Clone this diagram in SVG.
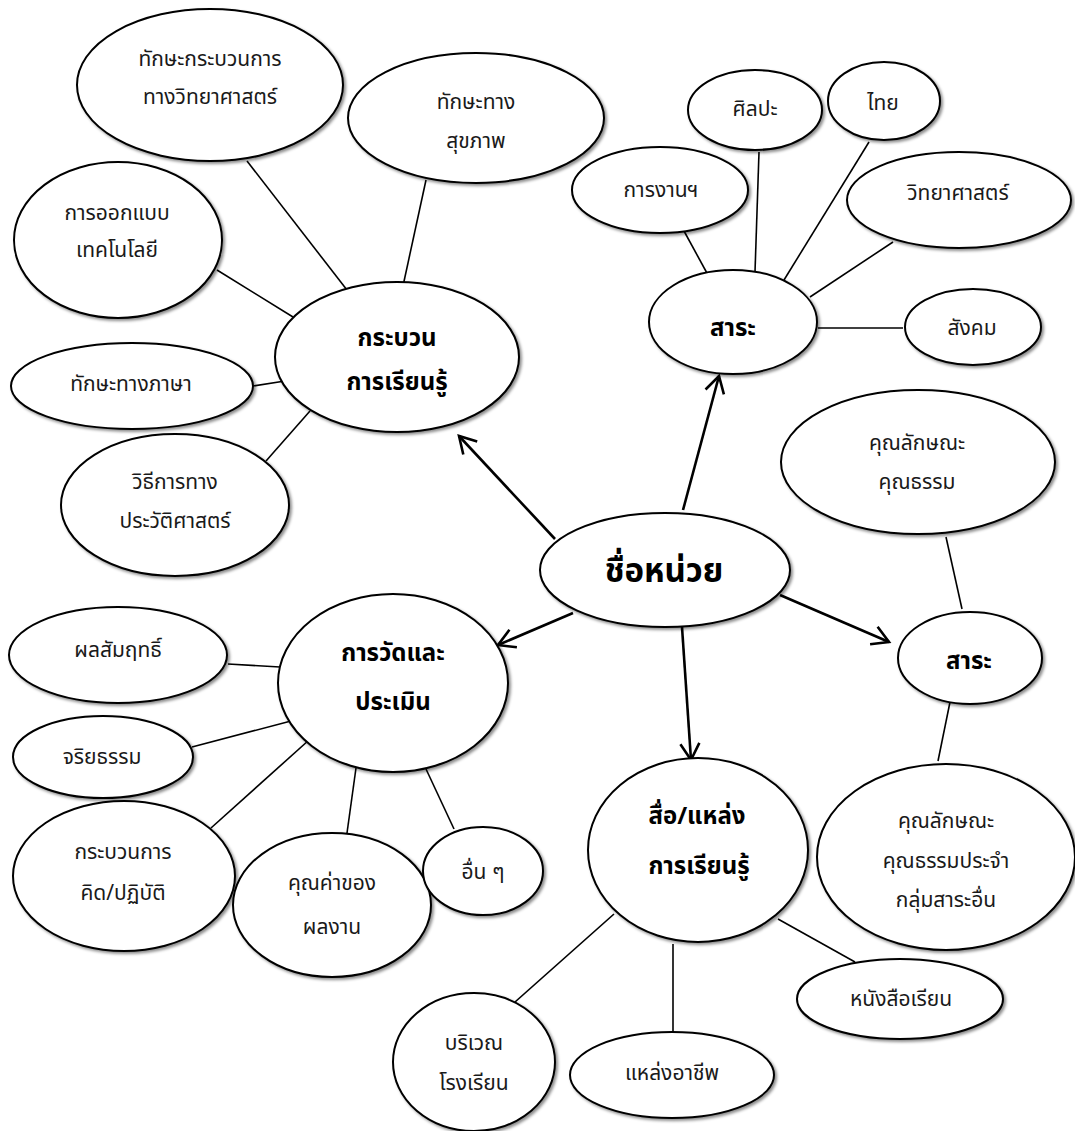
<svg xmlns="http://www.w3.org/2000/svg" width="1075" height="1131" viewBox="0 0 1075 1131">
  <style>
    .node ellipse { fill: #ffffff; stroke: #000000; stroke-width: 2; filter: url(#shade); }
    .link { stroke: #000000; stroke-width: 1.6; fill: none; }
    .arrow { stroke: #000000; stroke-width: 2.6; fill: none; marker-end: url(#head); }
    text { font-family: "Noto Sans Thai", "Noto Sans", "DejaVu Sans", sans-serif; text-anchor: middle; fill: #1a1a1a; }
    .t { font-size: 21px; }
    .b { font-size: 24px; font-weight: bold; fill: #000000; }
    .main { font-size: 33px; font-weight: bold; fill: #000000; }
  </style>
  <defs>
    <filter id="shade" x="-10%" y="-10%" width="125%" height="125%">
      <feDropShadow dx="2" dy="2" stdDeviation="1.5" flood-color="#000000" flood-opacity="0.45"/>
    </filter>
    <marker id="head" markerUnits="userSpaceOnUse" viewBox="-20 -12 24 24" markerWidth="24" markerHeight="24" refX="0" refY="0" orient="auto">
      <path d="M -16.5 -9.5 L 0 0 L -16.5 9.5" fill="none" stroke="#000000" stroke-width="2.6" stroke-linejoin="miter"/>
    </marker>
  </defs>

  <rect width="1075" height="1131" fill="#ffffff"/>

  <!-- connectors -->
  <g id="connectors">
    <line class="link" x1="247" y1="161" x2="347" y2="290"/>
    <line class="link" x1="426" y1="180" x2="403" y2="286"/>
    <line class="link" x1="217" y1="270" x2="293" y2="317"/>
    <line class="link" x1="253" y1="386" x2="285" y2="381"/>
    <line class="link" x1="266" y1="461" x2="310" y2="411"/>
    <line class="link" x1="684" y1="231" x2="708" y2="275"/>
    <line class="link" x1="759" y1="152" x2="755" y2="272"/>
    <line class="link" x1="869" y1="142" x2="784" y2="280"/>
    <line class="link" x1="893" y1="242" x2="810" y2="297"/>
    <line class="link" x1="818" y1="328" x2="903" y2="328"/>
    <line class="link" x1="228" y1="664" x2="280" y2="667"/>
    <line class="link" x1="192" y1="747" x2="291" y2="721"/>
    <line class="link" x1="211" y1="828" x2="309" y2="740"/>
    <line class="link" x1="347" y1="833" x2="356" y2="768"/>
    <line class="link" x1="454" y1="829" x2="426" y2="769"/>
    <line class="link" x1="946" y1="537" x2="962" y2="609"/>
    <line class="link" x1="950" y1="702" x2="938" y2="761"/>
    <line class="link" x1="614" y1="914" x2="515" y2="1002"/>
    <line class="link" x1="673" y1="944" x2="673" y2="1036"/>
    <line class="link" x1="778" y1="919" x2="855" y2="962"/>

    <line class="arrow" x1="555" y1="539" x2="459" y2="436"/>
    <line class="arrow" x1="683" y1="510" x2="719" y2="376"/>
    <line class="arrow" x1="573" y1="613" x2="498" y2="645"/>
    <line class="arrow" x1="682" y1="627" x2="691" y2="760"/>
    <line class="arrow" x1="780" y1="595" x2="889" y2="642"/>
  </g>

  <!-- learning process cluster -->
  <g id="n-sci-skill" class="node">
    <ellipse cx="210" cy="85" rx="133" ry="76"/>
    <text class="t" x="210" y="66">ทักษะกระบวนการ</text>
    <text class="t" x="210" y="104">ทางวิทยาศาสตร์</text>
  </g>
  <g id="n-health-skill" class="node">
    <ellipse cx="476" cy="118" rx="128" ry="65"/>
    <text class="t" x="476" y="109">ทักษะทาง</text>
    <text class="t" x="476" y="148">สุขภาพ</text>
  </g>
  <g id="n-tech-design" class="node">
    <ellipse cx="118" cy="240" rx="104" ry="78"/>
    <text class="t" x="117" y="220">การออกแบบ</text>
    <text class="t" x="117" y="257">เทคโนโลยี</text>
  </g>
  <g id="n-process" class="node">
    <ellipse cx="397" cy="357" rx="122" ry="75"/>
    <text class="b" x="397" y="346">กระบวน</text>
    <text class="b" x="397" y="390">การเรียนรู้</text>
  </g>
  <g id="n-lang-skill" class="node">
    <ellipse cx="132" cy="386" rx="121" ry="43"/>
    <text class="t" x="131" y="391">ทักษะทางภาษา</text>
  </g>
  <g id="n-history" class="node">
    <ellipse cx="175" cy="505" rx="114" ry="71"/>
    <text class="t" x="175" y="489">วิธีการทาง</text>
    <text class="t" x="175" y="528">ประวัติศาสตร์</text>
  </g>

  <!-- subject cluster (top) -->
  <g id="n-art" class="node">
    <ellipse cx="755" cy="110" rx="67" ry="40"/>
    <text class="t" x="755" y="116">ศิลปะ</text>
  </g>
  <g id="n-thai" class="node">
    <ellipse cx="884" cy="101" rx="56" ry="39"/>
    <text class="t" x="883" y="110">ไทย</text>
  </g>
  <g id="n-work" class="node">
    <ellipse cx="660" cy="190" rx="88" ry="43"/>
    <text class="t" x="661" y="197">การงานฯ</text>
  </g>
  <g id="n-science" class="node">
    <ellipse cx="959" cy="200" rx="112" ry="48"/>
    <text class="t" x="958" y="200">วิทยาศาสตร์</text>
  </g>
  <g id="n-subject-top" class="node">
    <ellipse cx="733" cy="322" rx="84" ry="52"/>
    <text class="b" x="733" y="336">สาระ</text>
  </g>
  <g id="n-social" class="node">
    <ellipse cx="973" cy="327" rx="68" ry="38"/>
    <text class="t" x="972" y="335">สังคม</text>
  </g>

  <!-- unit name -->
  <g id="n-unit" class="node">
    <ellipse cx="665" cy="570" rx="125" ry="57"/>
    <text class="main" x="664" y="582">ชื่อหน่วย</text>
  </g>

  <!-- subject cluster (right) -->
  <g id="n-virtue" class="node">
    <ellipse cx="918" cy="462" rx="137" ry="72"/>
    <text class="t" x="917" y="450">คุณลักษณะ</text>
    <text class="t" x="917" y="489">คุณธรรม</text>
  </g>
  <g id="n-subject-right" class="node">
    <ellipse cx="970" cy="658" rx="72" ry="46"/>
    <text class="b" x="969" y="669">สาระ</text>
  </g>
  <g id="n-virtue-other" class="node">
    <ellipse cx="946" cy="857" rx="129" ry="93"/>
    <text class="t" x="946" y="828">คุณลักษณะ</text>
    <text class="t" x="946" y="868">คุณธรรมประจำ</text>
    <text class="t" x="946" y="907">กลุ่มสาระอื่น</text>
  </g>

  <!-- assessment cluster -->
  <g id="n-achievement" class="node">
    <ellipse cx="118" cy="655" rx="109" ry="48"/>
    <text class="t" x="118" y="657">ผลสัมฤทธิ์</text>
  </g>
  <g id="n-assess" class="node">
    <ellipse cx="393" cy="683" rx="115" ry="89"/>
    <text class="b" x="393" y="661">การวัดและ</text>
    <text class="b" x="393" y="710">ประเมิน</text>
  </g>
  <g id="n-ethics" class="node">
    <ellipse cx="103" cy="757" rx="90" ry="41"/>
    <text class="t" x="102" y="764">จริยธรรม</text>
  </g>
  <g id="n-thinking" class="node">
    <ellipse cx="124" cy="876" rx="111" ry="75"/>
    <text class="t" x="123" y="859">กระบวนการ</text>
    <text class="t" x="123" y="900">คิด/ปฏิบัติ</text>
  </g>
  <g id="n-work-value" class="node">
    <ellipse cx="332" cy="905" rx="99" ry="72"/>
    <text class="t" x="332" y="890">คุณค่าของ</text>
    <text class="t" x="332" y="934">ผลงาน</text>
  </g>
  <g id="n-others" class="node">
    <ellipse cx="483" cy="871" rx="60" ry="44"/>
    <text class="t" x="483" y="879">อื่น ๆ</text>
  </g>

  <!-- media cluster -->
  <g id="n-media" class="node">
    <ellipse cx="698" cy="850" rx="110" ry="92"/>
    <text class="b" x="697" y="824">สื่อ/แหล่ง</text>
    <text class="b" x="699" y="874">การเรียนรู้</text>
  </g>
  <g id="n-school" class="node">
    <ellipse cx="474" cy="1062" rx="81" ry="69"/>
    <text class="t" x="474" y="1050">บริเวณ</text>
    <text class="t" x="474" y="1090">โรงเรียน</text>
  </g>
  <g id="n-career" class="node">
    <ellipse cx="672" cy="1075" rx="102" ry="43"/>
    <text class="t" x="672" y="1080">แหล่งอาชีพ</text>
  </g>
  <g id="n-textbook" class="node">
    <ellipse cx="900" cy="999" rx="103" ry="40"/>
    <text class="t" x="901" y="1006">หนังสือเรียน</text>
  </g>
</svg>
